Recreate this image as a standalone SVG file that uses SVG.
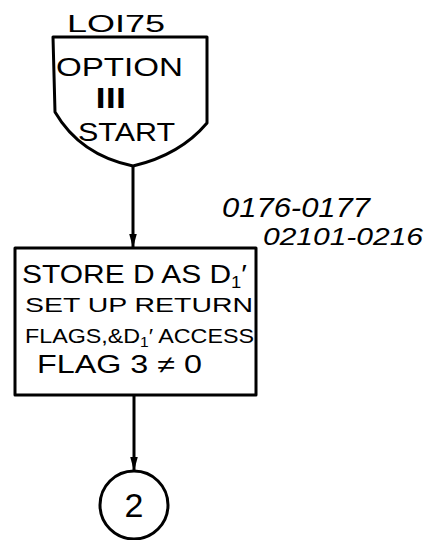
<svg xmlns="http://www.w3.org/2000/svg" width="442" height="540" viewBox="0 0 442 540">
<style>
.s{fill:none;stroke:#000;stroke-width:3;stroke-linejoin:round}
.t{font-family:"Liberation Sans",Arial,sans-serif;fill:#000}
.c{stroke:#000;stroke-width:3;fill:none}
</style>
<defs>
<marker id="arr" markerWidth="14" markerHeight="26" refX="26" refY="7" orient="auto" markerUnits="userSpaceOnUse" viewBox="0 0 26 14">
<path d="M0,0 L26,7 L0,14 Z" fill="#000"/>
</marker>
</defs>
<rect width="442" height="540" fill="#fff"/>
<g id="start">
<path class="s" d="M53,37 L207,37 L207,123 Q180,155 133,166 Q80,155 55,112 Z"/>
<text class="t" x="67" y="32" font-size="24" textLength="98" lengthAdjust="spacingAndGlyphs">LOI75</text>
<text class="t" x="56" y="76" font-size="25" textLength="127" lengthAdjust="spacingAndGlyphs">OPTION</text>
<text class="t" x="93" y="108" font-size="28" font-family="DejaVu Sans" textLength="35" lengthAdjust="spacingAndGlyphs">Ⅲ</text>
<text class="t" x="78" y="141" font-size="25" textLength="97" lengthAdjust="spacingAndGlyphs">START</text>
</g>
<g id="process">
<rect class="s" x="15" y="248" width="241" height="147"/>
<text class="t" x="22" y="283" font-size="26" textLength="225" lengthAdjust="spacingAndGlyphs">STORE D AS D<tspan font-size="16" dy="5">1</tspan><tspan dy="-5">′</tspan></text>
<text class="t" x="25" y="312" font-size="21" textLength="228" lengthAdjust="spacingAndGlyphs">SET UP RETURN</text>
<text class="t" x="25" y="343" font-size="21" textLength="229" lengthAdjust="spacingAndGlyphs">FLAGS,&amp;D<tspan font-size="14" dy="4">1</tspan><tspan dy="-4">′ ACCESS</tspan></text>
<text class="t" x="37" y="373" font-size="25" textLength="165" lengthAdjust="spacingAndGlyphs">FLAG 3 ≠ 0</text>
</g>
<g id="connector2">
<circle class="s" cx="134" cy="505" r="34"/>
<text class="t" x="134" y="517" font-size="34" text-anchor="middle">2</text>
</g>
<g id="refs">
<text class="t" x="222" y="217" font-size="27" font-style="italic" textLength="148" lengthAdjust="spacingAndGlyphs">0176-0177</text>
<text class="t" x="263" y="245" font-size="24" font-style="italic" textLength="160" lengthAdjust="spacingAndGlyphs">02101-0216</text>
</g>
<g id="connectors">
<line class="c" x1="133" y1="166" x2="133" y2="248" marker-end="url(#arr)"/>
<line class="c" x1="134" y1="395" x2="134" y2="471" marker-end="url(#arr)"/>
</g>
</svg>
